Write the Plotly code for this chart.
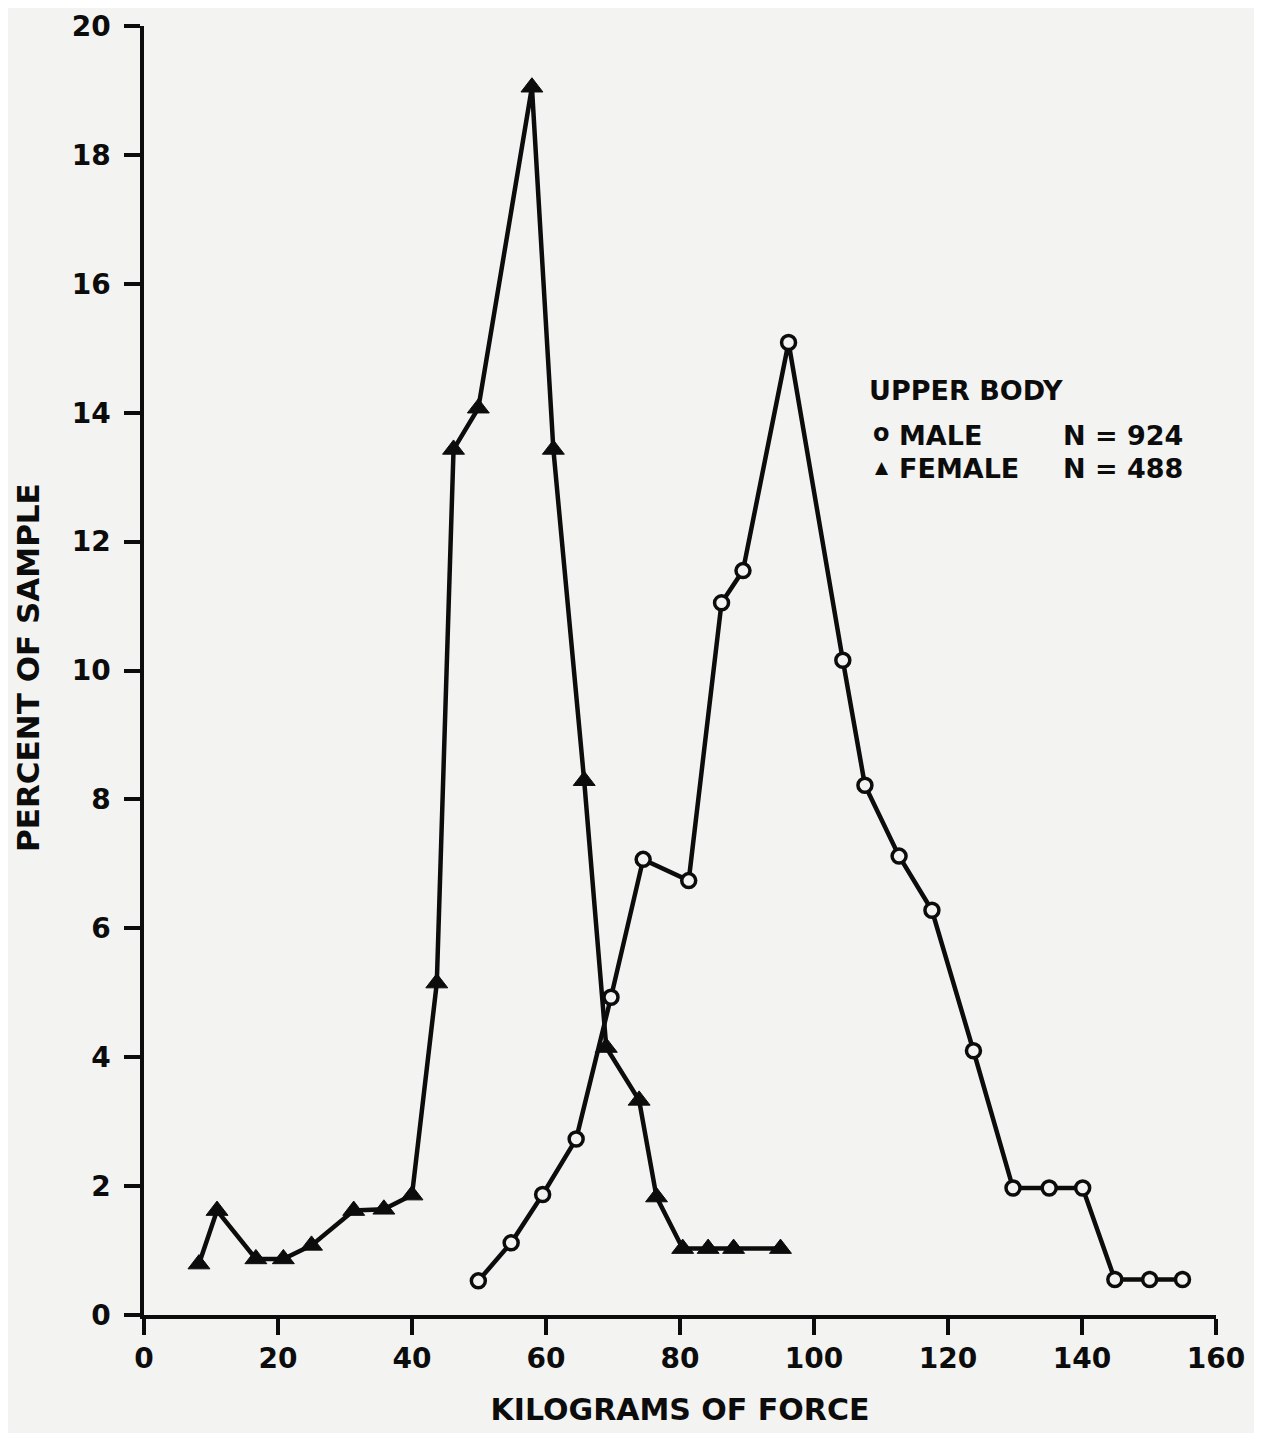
import plotly.graph_objects as go

# Female (upper body) – kilograms of force vs percent of sample
female_kg = [8.2, 10.9, 16.7, 20.8, 25.0, 31.3, 35.8, 40.0, 43.7, 46.2, 49.9,
             57.9, 61.1, 65.7, 69.0, 73.9, 76.5, 80.4, 84.2, 88.0, 95.0]
female_pct = [0.79, 1.62, 0.87, 0.87, 1.08, 1.62, 1.64, 1.86, 5.15, 13.43, 14.07,
              19.05, 13.43, 8.29, 4.15, 3.33, 1.83, 1.03, 1.03, 1.03, 1.03]

# Male (upper body)
male_kg = [49.9, 54.8, 59.5, 64.5, 69.7, 74.5, 81.3, 86.2, 89.4, 96.2, 104.3,
           107.6, 112.7, 117.6, 123.8, 129.7, 135.1, 140.1, 144.9, 150.1, 155.0]
male_pct = [0.53, 1.12, 1.87, 2.73, 4.93, 7.07, 6.74, 11.05, 11.55, 15.09, 10.16,
            8.22, 7.12, 6.28, 4.10, 1.97, 1.97, 1.97, 0.55, 0.55, 0.55]

x_ticks = [0, 20, 40, 60, 80, 100, 120, 140, 160]
y_ticks = [0, 2, 4, 6, 8, 10, 12, 14, 16, 18, 20]

FONT = "DejaVu Sans"
INK = "#0c0c0c"
BG = "#f3f3f1"

fig = go.Figure()

fig.add_trace(go.Scatter(
    x=female_kg, y=female_pct, mode="lines+markers", name="FEMALE",
    line=dict(color=INK, width=4.5),
    marker=dict(symbol="triangle-up", size=19, color=INK, line=dict(color=INK, width=1)),
    showlegend=False,
))
fig.add_trace(go.Scatter(
    x=male_kg, y=male_pct, mode="lines+markers", name="MALE",
    line=dict(color=INK, width=4.5),
    marker=dict(symbol="circle", size=14, color=BG, line=dict(color=INK, width=3.5)),
    showlegend=False,
))

# legend block as text
ann_font = dict(family=FONT, size=27, color=INK, weight="bold")
fig.add_annotation(x=107.9, y=14.34, text="UPPER BODY", showarrow=False,
                   xanchor="left", yanchor="middle", font=ann_font)
fig.add_annotation(x=112.4, y=13.64, text="MALE", showarrow=False,
                   xanchor="left", yanchor="middle", font=ann_font)
fig.add_annotation(x=112.4, y=13.13, text="FEMALE", showarrow=False,
                   xanchor="left", yanchor="middle", font=ann_font)
fig.add_annotation(x=136.9, y=13.64, text="N = 924", showarrow=False,
                   xanchor="left", yanchor="middle", font=ann_font)
fig.add_annotation(x=136.9, y=13.13, text="N = 488", showarrow=False,
                   xanchor="left", yanchor="middle", font=ann_font)
fig.add_annotation(x=110.1, y=13.68, text="o", showarrow=False,
                   xanchor="center", yanchor="middle",
                   font=dict(family=FONT, size=24, color=INK, weight="bold"))
fig.add_annotation(x=110.1, y=13.15, text="▲", showarrow=False,
                   xanchor="center", yanchor="middle",
                   font=dict(family=FONT, size=17, color=INK))

# y-axis title placed as a rotated annotation to match the reference position
fig.add_annotation(xref="paper", yref="paper", x=0, y=0.502, xshift=-116,
                   text="PERCENT OF SAMPLE", textangle=-90, showarrow=False,
                   xanchor="center", yanchor="middle",
                   font=dict(family=FONT, size=31, color=INK, weight="bold"))

axis_common = dict(
    showgrid=False, zeroline=False, showline=True, linecolor=INK, linewidth=3.5,
    ticks="outside", ticklen=16, tickwidth=3.5, tickcolor=INK,
    tickfont=dict(family=FONT, size=28, color=INK, weight="bold"),
    ticklabeloverflow="allow",
)

fig.update_layout(
    width=1254, height=1425,
    paper_bgcolor=BG, plot_bgcolor=BG,
    margin=dict(l=136, r=46, t=18, b=118),
    xaxis=dict(range=[0, 160], tickvals=x_ticks, ticktext=[str(v) for v in x_ticks],
               title=dict(text="KILOGRAMS OF FORCE",
                          font=dict(family=FONT, size=30, color=INK, weight="bold"),
                          standoff=26),
               automargin=False, **axis_common),
    yaxis=dict(range=[0, 20], tickvals=y_ticks, ticktext=[str(v) for v in y_ticks],
               ticklabelstandoff=8,
               automargin=False, **axis_common),
)

fig.write_html("out.html")
